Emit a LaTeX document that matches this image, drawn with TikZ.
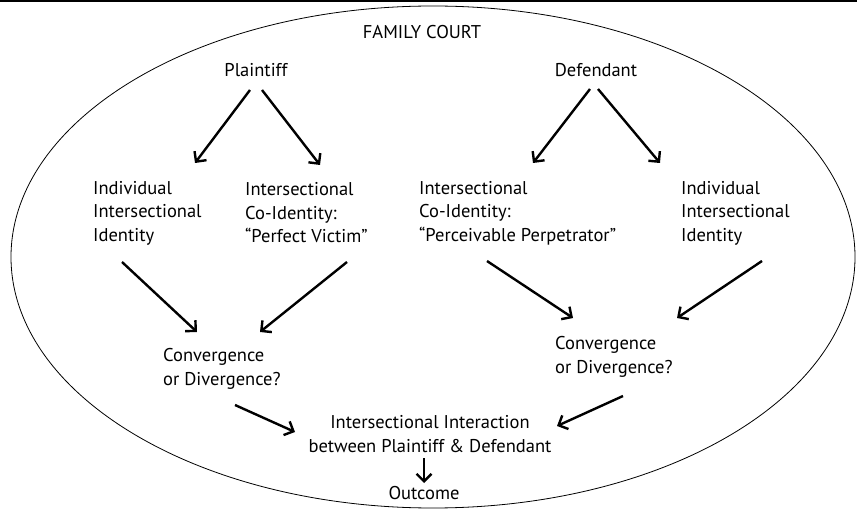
\documentclass[tikz,border=0pt]{standalone}
\usepackage{fontspec}
\setmainfont{PT Sans}
\usetikzlibrary{arrows.meta}

\begin{document}
\begin{tikzpicture}[x=1pt,y=1pt,
  lbl/.style={inner sep=0pt,font=\fontsize{18.5}{23.5}\selectfont},
  blk/.style={lbl,anchor=west,align=left},
  arr/.style={line width=2.4pt,-{Straight Barb[length=7.5pt,width=15pt,line width=2.4pt]}}]
  \useasboundingbox (0,0) rectangle (857,512);
  % Court boundary and the rule along the top.
  \draw[line width=2pt] (0,511) -- (857,511);
  \draw[line width=0.8pt] (433,255) ellipse [x radius=422,y radius=251];
  \node[lbl] (fc) at (422,480) {FAMILY COURT};

  % The two parties and their identities.
  \node[lbl] (pl) at (256,442) {Plaintiff};
  \node[lbl] (df) at (596,442) {Defendant};
  \node[blk] (indL) at (93,299) {Individual\\Intersectional\\Identity};
  \node[blk] (vic) at (245,299) {Intersectional\\Co-Identity:\\``Perfect Victim''};
  \node[blk] (perp) at (419,299) {Intersectional\\Co-Identity:\\``Perceivable Perpetrator''};
  \node[blk] (indR) at (681,299) {Individual\\Intersectional\\Identity};
  \node[blk] (convL) at (163,143) {Convergence\\or Divergence?};
  \node[blk] (convR) at (555,155) {Convergence\\or Divergence?};
  \node[lbl,align=center] (inter) at (430,78)
    {Intersectional Interaction\\between Plaintiff \& Defendant};
  \node[lbl] (out) at (424,19) {Outcome};

  \draw[arr] ([shift={(-6,-20)}]pl.center) -- ([shift={(102,50)}]indL.west);
  \draw[arr] ([shift={(6,-20)}]pl.center) -- ([shift={(75,48)}]vic.west);
  \draw[arr] ([shift={(-6,-19)}]df.center) -- ([shift={(114,50)}]perp.west);
  \draw[arr] ([shift={(2,-19)}]df.center) -- ([shift={(-21,50)}]indR.west);
  \draw[arr] ([shift={(29,-49)}]indL.west) -- ([shift={(34,37)}]convL.west);
  \draw[arr] ([shift={(102,-49)}]vic.west) -- ([shift={(97,37)}]convL.west);
  \draw[arr] ([shift={(68,-48)}]perp.west) -- ([shift={(18,39)}]convR.west);
  \draw[arr] ([shift={(81,-48)}]indR.west) -- ([shift={(122,39)}]convR.west);
  \draw[arr] ([shift={(72,-36)}]convL.west) -- ([shift={(-135,2)}]inter.center);
  \draw[arr] ([shift={(68,-39)}]convR.west) -- ([shift={(127,8)}]inter.center);
  \draw[arr] ([shift={(-6,-24)}]inter.center) -- ([shift={(0,10)}]out.center);
\end{tikzpicture}
\end{document}
